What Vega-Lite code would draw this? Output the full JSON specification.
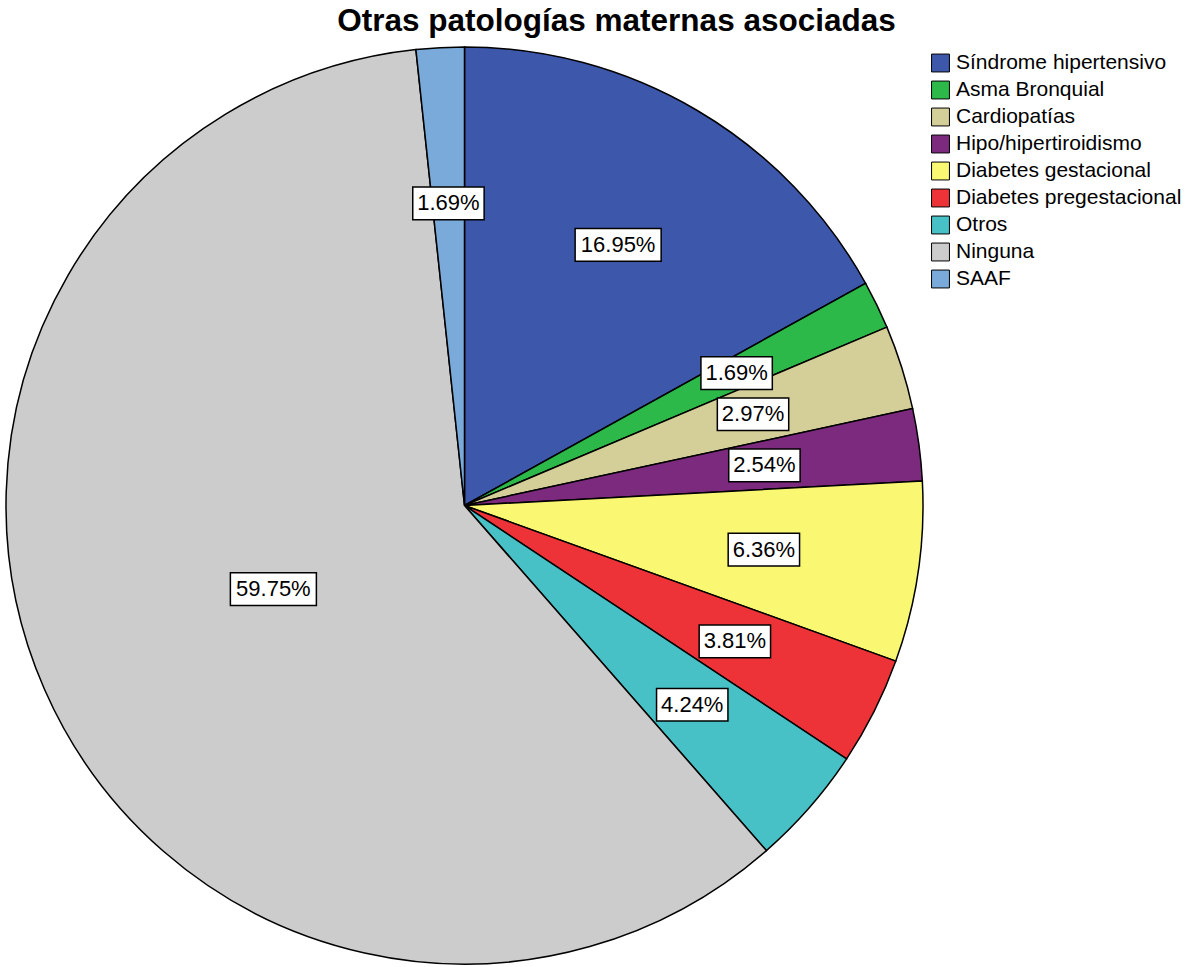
{
  "$schema": "https://vega.github.io/schema/vega-lite/v6.json",
  "autosize": {"type": "none"},
  "width": 917,
  "height": 917,
  "padding": {"left": 6, "top": 47, "right": 265, "bottom": 3},
  "background": "white",
  "title": {
    "text": "Otras patologías maternas asociadas",
    "font": "Liberation Sans",
    "fontSize": 31.5,
    "fontWeight": "bold",
    "color": "black",
    "anchor": "middle",
    "dx": 152,
    "baseline": "alphabetic",
    "offset": -18
  },
  "config": {"view": {"stroke": null}},
  "data": {
    "values": [
      {"categoria": "Síndrome hipertensivo", "pct": 16.95, "orden": 1},
      {"categoria": "Asma Bronquial", "pct": 1.69, "orden": 2},
      {"categoria": "Cardiopatías", "pct": 2.97, "orden": 3},
      {"categoria": "Hipo/hipertiroidismo", "pct": 2.54, "orden": 4},
      {"categoria": "Diabetes gestacional", "pct": 6.36, "orden": 5},
      {"categoria": "Diabetes pregestacional", "pct": 3.81, "orden": 6},
      {"categoria": "Otros", "pct": 4.24, "orden": 7},
      {"categoria": "Ninguna", "pct": 59.75, "orden": 8},
      {"categoria": "SAAF", "pct": 1.69, "orden": 9}
    ]
  },
  "transform": [
    {"window": [{"op": "sum", "field": "pct", "as": "cum"}], "sort": [{"field": "orden"}], "frame": [null, 0]},
    {"calculate": "(datum.cum - datum.pct / 2) / 100 * 2 * PI", "as": "mid"},
    {"calculate": "datum.pct > 50 ? 0.455 : 0.66", "as": "lr"},
    {"calculate": "datum.lr * sin(datum.mid)", "as": "lx"},
    {"calculate": "datum.lr * cos(datum.mid)", "as": "ly"},
    {"calculate": "format(datum.pct, '.2f') + '%'", "as": "etiqueta"}
  ],
  "layer": [
    {
      "mark": {"type": "arc", "radius": 458.5, "stroke": "black", "strokeWidth": 1.5},
      "encoding": {
        "theta": {"field": "pct", "type": "quantitative", "stack": true},
        "order": {"field": "orden", "type": "quantitative"},
        "color": {
          "field": "categoria",
          "type": "nominal",
          "sort": null,
          "scale": {
            "domain": ["Síndrome hipertensivo", "Asma Bronquial", "Cardiopatías", "Hipo/hipertiroidismo", "Diabetes gestacional", "Diabetes pregestacional", "Otros", "Ninguna", "SAAF"],
            "range": ["#3D57AB", "#2DB84A", "#D4CE98", "#7B2A7E", "#FAF873", "#EE3338", "#47C1C6", "#CCCCCC", "#7AAAD9"]
          },
          "legend": {
            "orient": "none",
            "legendX": 924,
            "legendY": 5.5,
            "title": null,
            "symbolType": "square",
            "symbolSize": 320,
            "symbolStrokeColor": "black",
            "symbolStrokeWidth": 1,
            "symbolOpacity": 1,
            "labelFont": "Liberation Sans",
            "labelFontSize": 21,
            "labelColor": "black",
            "labelLimit": 400,
            "labelOffset": 5,
            "rowPadding": 4
          }
        }
      }
    },
    {
      "mark": {"type": "point", "filled": true, "fill": "white", "stroke": "black", "strokeWidth": 1.5, "size": 7396, "opacity": 1},
      "encoding": {
        "x": {"field": "lx", "type": "quantitative", "scale": {"domain": [-1, 1], "nice": false, "zero": false}, "axis": null},
        "y": {"field": "ly", "type": "quantitative", "scale": {"domain": [-1, 1], "nice": false, "zero": false}, "axis": null},
        "shape": {
          "condition": {"test": "datum.pct >= 10", "value": "M-1,-0.38H1V0.38H-1Z"},
          "value": "M-0.83,-0.38H0.83V0.38H-0.83Z"
        }
      }
    },
    {
      "mark": {"type": "text", "font": "Liberation Sans", "fontSize": 22, "color": "black", "baseline": "middle", "align": "center"},
      "encoding": {
        "x": {"field": "lx", "type": "quantitative"},
        "y": {"field": "ly", "type": "quantitative"},
        "text": {"field": "etiqueta", "type": "nominal"}
      }
    }
  ]
}
